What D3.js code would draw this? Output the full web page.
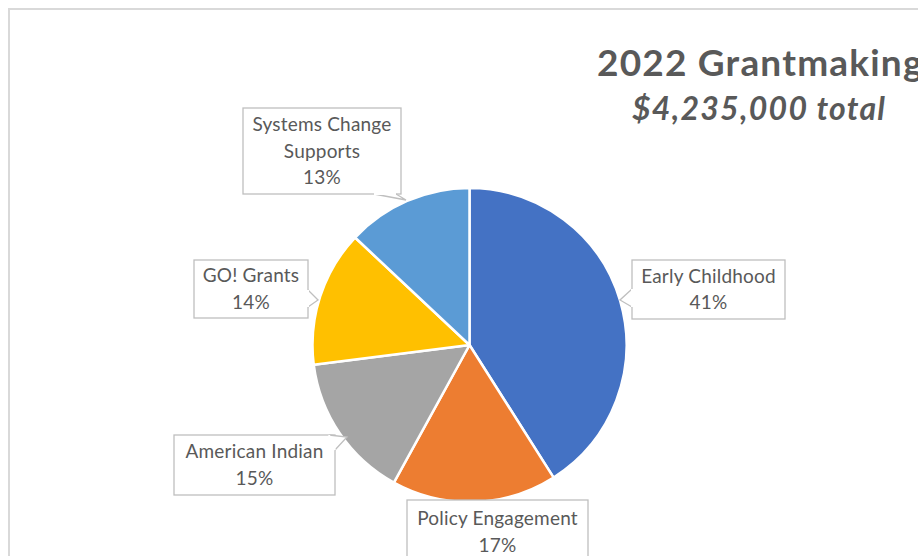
<!DOCTYPE html>
<html><head><meta charset="utf-8">
<script src="https://cdn.jsdelivr.net/npm/d3@7"></script>
<style>html,body{margin:0;padding:0;background:#fff;overflow:hidden}</style>
</head><body>
<svg id="c" width="918" height="556"></svg>
<script>
const categories = ["Early Childhood","Policy Engagement","American Indian","GO! Grants","Systems Change Supports"];
const values = [41,17,15,14,13];
const colors = ["#4472C4","#ED7D31","#A5A5A5","#FFC000","#5B9BD5"];
const labelLines = [["Early Childhood"],["Policy Engagement"],["American Indian"],["GO! Grants"],["Systems Change","Supports"]];
const title = "2022 Grantmaking";
const subtitle = "$4,235,000 total";

// callout layout: box [x,y,w,h], pointer polygon
const callouts = [
  {box:[632,260,153,59], ptr:[[632,289],[620,300],[632,307]]},
  {box:[407,500,181,70], ptr:null},
  {box:[174,435,161,60], ptr:[[329,435],[347,437],[335,450]]},
  {box:[194,260,114,58], ptr:[[308,290],[318,300],[308,307]]},
  {box:[243,108,158,86], ptr:[[374,194],[406,200],[396,194]]}
];

const svg = d3.select("#c");
const font = "Lato, 'Open Sans', sans-serif";
svg.append("rect").attr("x",9).attr("y",9).attr("width",1000).attr("height",1000)
  .attr("fill","#fff").attr("stroke","#d9d9d9").attr("stroke-width",2);

const cx = 469.5, cy = 345, R = 157;
const pie = d3.pie().sort(null).value(d=>d)(values);
const arc = d3.arc().innerRadius(0).outerRadius(R);
const g = svg.append("g").attr("transform",`translate(${cx},${cy})`);
g.selectAll("path").data(pie).join("path")
  .attr("d",arc).attr("fill",(d,i)=>colors[i])
  .attr("stroke","#fff").attr("stroke-width",2.5).attr("stroke-linejoin","round");

const total = d3.sum(values);
callouts.forEach((c,i)=>{
  const [x,y,w,h]=c.box;
  const lg = svg.append("g");
  lg.append("rect").attr("x",x).attr("y",y).attr("width",w).attr("height",h)
    .attr("fill","#fff").attr("stroke","#bfbfbf").attr("stroke-width",1.3);
  if(c.ptr){
    lg.append("path").attr("d",d3.line()(c.ptr))
      .attr("fill","#fff").attr("stroke","#bfbfbf").attr("stroke-width",1.3);
    lg.append("line").attr("x1",c.ptr[0][0]).attr("y1",c.ptr[0][1]).attr("x2",c.ptr[2][0]).attr("y2",c.ptr[2][1])
      .attr("stroke","#fff").attr("stroke-width",2);
  }
  const lines = labelLines[i].concat([Math.round(values[i]/total*100)+"%"]);
  const lh = 26.5;
  const startY = y + h/2 - (lines.length-1)*lh/2 + 6.5;
  const t = lg.append("text").attr("font-family",font).attr("font-size",19).attr("letter-spacing",0.2)
    .attr("fill","#595959").attr("text-anchor","middle");
  lines.forEach((l,k)=>t.append("tspan").attr("x",x+w/2).attr("y",(i===1? y+25 : startY)+k*lh).text(l));
});

svg.append("text").attr("x",597).attr("y",76).attr("text-anchor","start")
  .attr("font-family",font).attr("font-weight","bold").attr("font-size",37).attr("letter-spacing",1.2)
  .attr("fill","#595959").text(title);
svg.append("text").attr("x",632).attr("y",120).attr("text-anchor","start")
  .attr("textLength",253).attr("lengthAdjust","spacing")
  .attr("font-family",font).attr("font-weight","bold").attr("font-style","italic").attr("font-size",32).attr("fill","#595959").text(subtitle);
</script>
</body></html>
